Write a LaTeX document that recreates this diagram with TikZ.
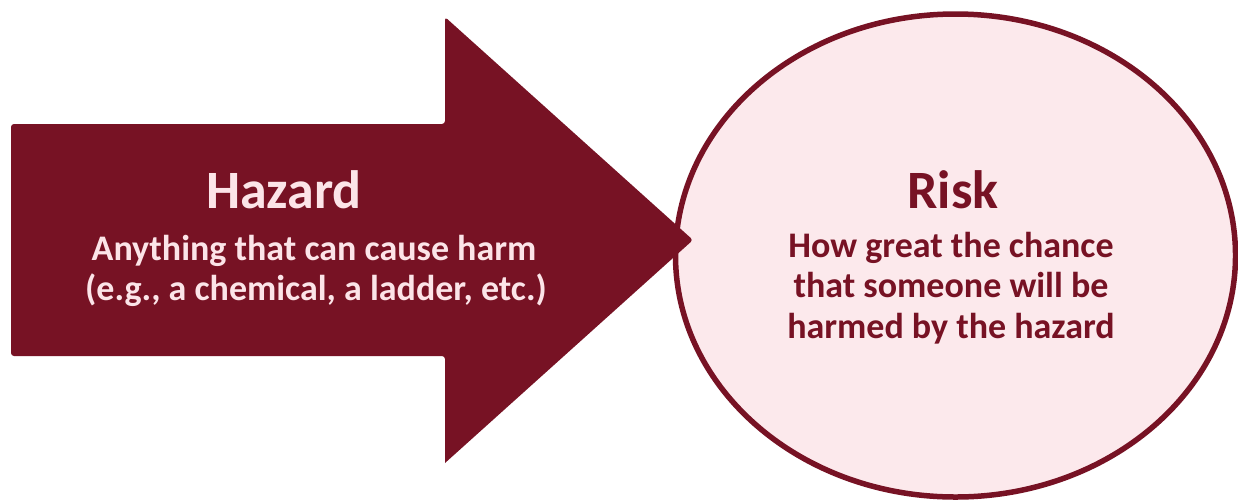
\documentclass[tikz,border=0pt]{standalone}
\usepackage{fontspec}
\setmainfont{Carlito}
\usetikzlibrary{shapes.geometric}
\definecolor{maroon}{HTML}{771224}
\definecolor{pinkfill}{HTML}{FCE9EC}
\definecolor{pinktext}{HTML}{FCE4E8}
\tikzset{
  titletext/.style={anchor=base, inner sep=0pt, font=\fontsize{54}{62}\selectfont\bfseries},
  bodytext/.style={anchor=base, inner sep=0pt, font=\fontsize{36}{42}\selectfont\bfseries},
  arrowshape/.style={fill=maroon, rounded corners=3pt},
  riskshape/.style={ellipse, draw=maroon, line width=5.5pt, fill=pinkfill, inner sep=0pt}
}
\begin{document}
\begin{tikzpicture}[x=1pt, y=-1pt]
\useasboundingbox (0,0) rectangle (1238,499);
% ellipse
\node[riskshape, minimum width=560pt, minimum height=483pt] (risk) at (955.5,255.5) {};
% arrow
\path[arrowshape] (11,124) -- (445,124) -- (445,17) -- (693,240) [sharp corners] -- (445,463) [rounded corners=3pt] -- (445,356) -- (11,356) -- cycle;
\coordinate (tip) at (693,240);
% arrow text
\node[titletext, text=pinktext] (hz) at (284,208) {Hazard};
\node[bodytext, text=pinktext] (hz1) at (314,260) {Anything that can cause harm};
\node[bodytext, text=pinktext] (hz2) at (316,300) {(e.g., a chemical, a ladder, etc.)};
% risk text
\node[titletext, text=maroon] (rk) at (953,208) {Risk};
\node[bodytext, text=maroon] (rk1) at (951,257) {How great the chance};
\node[bodytext, text=maroon] (rk2) at (951,297) {that someone will be};
\node[bodytext, text=maroon] (rk3) at (951,338) {harmed by the hazard};
\end{tikzpicture}
\end{document}
